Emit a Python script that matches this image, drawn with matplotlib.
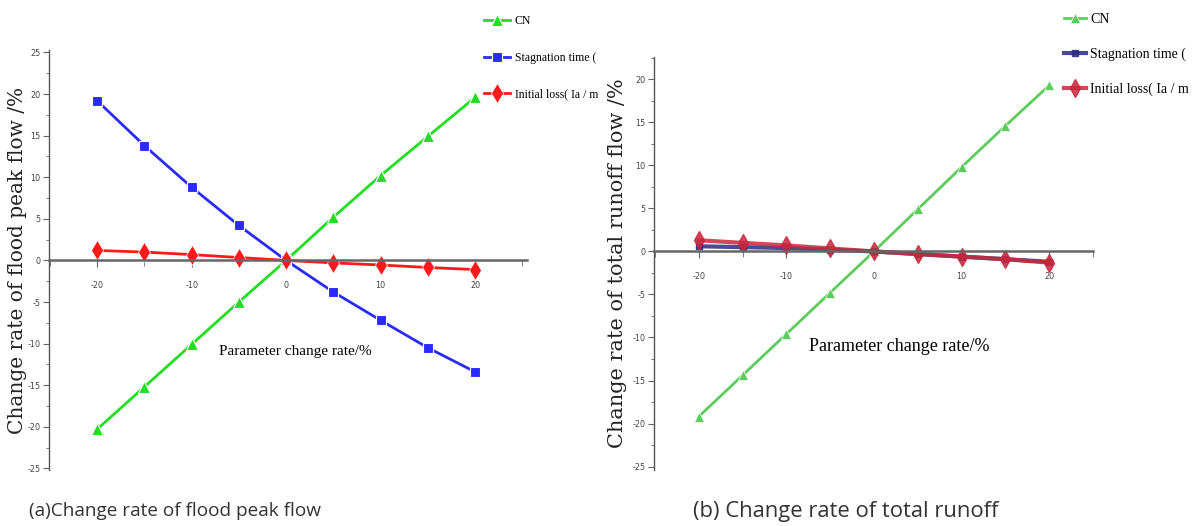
import matplotlib
matplotlib.use("Agg")
import matplotlib.pyplot as plt
from matplotlib.ticker import MultipleLocator

plt.rcParams["axes.unicode_minus"] = False

# ---------------- data ----------------
param_change = [-20, -15, -10, -5, 0, 5, 10, 15, 20]

# (a) change rate of flood peak flow
peak_cn = [-20.3, -15.2, -10.1, -5.0, 0.0, 5.2, 10.2, 14.9, 19.6]
peak_stag = [19.2, 13.8, 8.8, 4.2, 0.0, -3.8, -7.2, -10.5, -13.4]
peak_ia = [1.2, 1.0, 0.7, 0.35, 0.0, -0.3, -0.55, -0.85, -1.1]

# (b) change rate of total runoff
run_cn = [-19.2, -14.4, -9.6, -4.8, 0.0, 4.9, 9.8, 14.6, 19.3]
run_stag = [0.6, 0.5, 0.4, 0.2, 0.0, -0.3, -0.6, -0.9, -1.2]
run_ia = [1.3, 1.0, 0.7, 0.35, 0.0, -0.3, -0.6, -0.9, -1.3]

# legend labels as visible (cut off) in the reference
labels = ["CN", "Stagnation time (", "Initial loss( Ia / m"]
ylabels = ["Change rate of flood peak flow /%", "Change rate of total runoff flow /%"]
xlabel = "Parameter change rate/%"
captions = ["(a)Change rate of flood peak flow", "(b) Change rate of total runoff"]

W, H = 1196, 526
fig = plt.figure(figsize=(W / 100, H / 100), dpi=100)


def px_axes(l, t, r, b):
    return fig.add_axes([l / W, 1 - b / H, (r - l) / W, (b - t) / H])


def style_axes(ax, xlim, ylim, tickfs):
    ax.set_xlim(*xlim)
    ax.set_ylim(*ylim)
    for s in ("top", "right"):
        ax.spines[s].set_visible(False)
    ax.spines["left"].set_color("#555555")
    ax.spines["left"].set_linewidth(1.0)
    ax.spines["bottom"].set_position(("data", 0))
    ax.spines["bottom"].set_color("#666666")
    ax.spines["bottom"].set_linewidth(1.8)
    ax.xaxis.set_major_locator(MultipleLocator(10))
    ax.xaxis.set_minor_locator(MultipleLocator(5))
    ax.yaxis.set_major_locator(MultipleLocator(5))
    ax.yaxis.set_minor_locator(MultipleLocator(2.5))
    ax.tick_params(axis="both", which="both", direction="out", colors="#666666",
                   labelcolor="#444444", labelsize=tickfs)
    ax.tick_params(axis="x", which="major", length=5, pad=10)
    ax.tick_params(axis="x", which="minor", length=4)
    ax.tick_params(axis="y", which="major", length=4, pad=2)
    ax.tick_params(axis="y", which="minor", length=2.5)
    for lab in ax.get_xticklabels() + ax.get_yticklabels():
        lab.set_family("DejaVu Sans")
        lab.set_fontstretch("condensed")
    ax.patch.set_alpha(0)


# ---------------- panel (a) ----------------
ax1 = px_axes(49, 50, 527, 470)
style_axes(ax1, (-25.1, 25.5), (-25.2, 25.3), 6.5)
c1 = ["#22dd22", "#2a2aff", "#ff1a1a"]
ax1.plot(param_change, peak_cn, color=c1[0], lw=2, marker="^", ms=9,
         mec="white", mew=0.8, label=labels[0])
ax1.plot(param_change, peak_stag, color=c1[1], lw=2, marker="s", ms=7.5,
         mec="white", mew=0.8, label=labels[1])
ax1.plot(param_change, peak_ia, color=c1[2], lw=2, marker="d", ms=10,
         mec="white", mew=0.5, label=labels[2])
ax1.text(1.0, -10.9, xlabel, ha="center", va="center",
         family="Liberation Serif", fontsize=11)
ax1.set_ylabel(ylabels[0], family="DejaVu Serif", fontsize=14.5, color="#222222")
ax1.yaxis.set_label_coords(-0.047, 0.5)

ax1.legend(loc="upper left", bbox_to_anchor=(484 / W, 1 - 15 / H),
           bbox_transform=fig.transFigure, frameon=False,
           prop={"family": "Liberation Serif", "size": 8.5},
           handlelength=2.2, handletextpad=0.4, labelspacing=2.1,
           borderaxespad=0, borderpad=0)

# ---------------- panel (b) ----------------
ax2 = px_axes(654, 57, 1093, 470)
style_axes(ax2, (-25.1, 25.0), (-25.4, 22.6), 6.5)
c2 = ["#5ccc5c", "#2b2b80", "#c8283c"]
ax2.plot(param_change, run_cn, color=c2[0], lw=2, marker="^", ms=7,
         mec="white", mew=0.5, label=labels[0])
ax2.plot(param_change, run_stag, color=c2[1], lw=3, marker="s", ms=5,
         alpha=0.85, label=labels[1])
ax2.plot(param_change, run_ia, color=c2[2], lw=3, marker="d", ms=9,
         alpha=0.85, label=labels[2])
ax2.text(2.9, -11.0, xlabel, ha="center", va="center",
         family="Liberation Serif", fontsize=13)
ax2.set_ylabel(ylabels[1], family="DejaVu Serif", fontsize=15, color="#222222")
ax2.yaxis.set_label_coords(-0.062, 0.5)

ax2.legend(loc="upper left", bbox_to_anchor=(1064 / W, 1 - 13 / H),
           bbox_transform=fig.transFigure, frameon=False,
           prop={"family": "Liberation Serif", "size": 10},
           handlelength=1.6, handletextpad=0.3, labelspacing=1.55,
           borderaxespad=0, borderpad=0)

# ---------------- captions ----------------
fig.text(175 / W, 1 - 511 / H, captions[0], ha="center", va="center",
         family="Open Sans", fontsize=13.7, color="#333333")
fig.text(846 / W, 1 - 511 / H, captions[1], ha="center", va="center",
         family="Open Sans", fontsize=15.8, color="#333333")

fig.savefig("out.png", dpi=100)
